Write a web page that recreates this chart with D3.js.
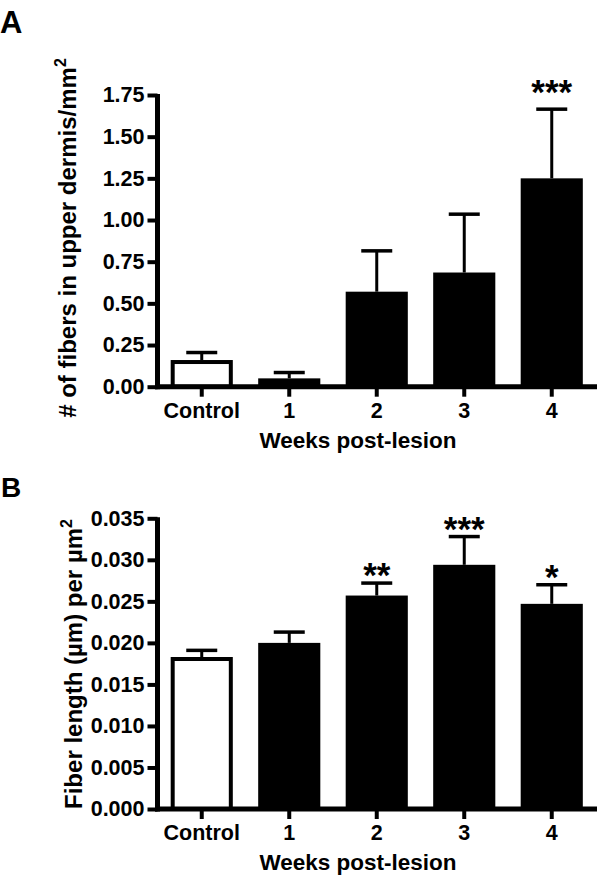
<!DOCTYPE html>
<html><head><meta charset="utf-8">
<script src="https://cdn.jsdelivr.net/npm/d3@7"></script>
<style>body{margin:0;background:#fff;} text{font-family:"Liberation Sans",Arial,sans-serif;font-weight:bold;fill:#000;}</style>
</head><body><svg id="c" width="600" height="883"></svg>
<script>
const categories = ["Control","1","2","3","4"];
const fibersMean = [0.16, 0.05, 0.57, 0.685, 1.25];
const fibersErr  = [0.045, 0.035, 0.245, 0.35, 0.415];
const fibersStars = ["", "", "", "", "***"];
const fibersTicks = [0, 0.25, 0.5, 0.75, 1.0, 1.25, 1.5, 1.75];
const lengthMean = [0.0183, 0.0200, 0.0257, 0.0294, 0.0247];
const lengthErr  = [0.0008, 0.0013, 0.0015, 0.0034, 0.0023];
const lengthStars = ["", "", "**", "***", "*"];
const lengthTicks = [0, 0.005, 0.01, 0.015, 0.02, 0.025, 0.03, 0.035];

const svg = d3.select("#c");

function panel(cfg){
  const g = svg.append("g");
  const x = d3.scaleBand().domain(categories).range([158, 595.5]).paddingInner(0.29).paddingOuter(0.145);
  const y = d3.scaleLinear().domain([0, cfg.max]).range([cfg.y0, cfg.y1]);
  // bars
  g.selectAll("rect.bar").data(cfg.mean).enter().append("rect")
    .attr("x", (d,i)=>x(categories[i])+2)
    .attr("width", x.bandwidth()-4)
    .attr("y", d=>y(d)+2)
    .attr("height", d=>y(0)-y(d)-2)
    .attr("fill", (d,i)=> i===0 ? "#fff" : "#000")
    .attr("stroke", "#000").attr("stroke-width", 4);
  // error bars
  const cx = i => x(categories[i]) + x.bandwidth()/2;
  g.selectAll("line.eb").data(cfg.mean).enter().append("line")
    .attr("x1",(d,i)=>cx(i)).attr("x2",(d,i)=>cx(i))
    .attr("y1",(d)=>y(d)).attr("y2",(d,i)=>y(d+cfg.err[i]))
    .attr("stroke","#000").attr("stroke-width",3);
  g.selectAll("line.cap").data(cfg.mean).enter().append("line")
    .attr("x1",(d,i)=>cx(i)-15.5).attr("x2",(d,i)=>cx(i)+15.5)
    .attr("y1",(d,i)=>y(d+cfg.err[i])).attr("y2",(d,i)=>y(d+cfg.err[i]))
    .attr("stroke","#000").attr("stroke-width",3.5);
  // stars
  g.selectAll("text.star").data(cfg.stars).enter().append("text")
    .attr("x",(d,i)=>cx(i)).attr("y",(d,i)=>y(cfg.mean[i]+cfg.err[i]) + cfg.starOff)
    .attr("text-anchor","middle").style("font-size","35px").text(d=>d);
  // y axis
  const ya = g.append("g").attr("transform","translate(157.5,0)")
    .call(d3.axisLeft(y).tickValues(cfg.ticks).tickFormat(cfg.fmt).tickSize(10).tickSizeOuter(0).tickPadding(3));
  ya.select(".domain").remove();
  ya.selectAll(".tick line").attr("stroke","#000").attr("stroke-width",4);
  ya.selectAll(".tick text").style("font-size","21.5px").attr("font-family",null);
  g.append("line").attr("x1",157.5).attr("x2",157.5).attr("y1",y(cfg.max)-1).attr("y2",y(0)+2.5)
    .attr("stroke","#000").attr("stroke-width",5);
  // x axis
  const xa = g.append("g").attr("transform",`translate(0,${y(0)})`)
    .call(d3.axisBottom(x).tickSize(10).tickSizeOuter(0).tickPadding(6));
  xa.select(".domain").remove();
  xa.selectAll(".tick line").attr("stroke","#000").attr("stroke-width",4);
  xa.selectAll(".tick text").style("font-size","21.5px").attr("font-family",null);
  g.append("line").attr("x1",155).attr("x2",597).attr("y1",y(0)).attr("y2",y(0))
    .attr("stroke","#000").attr("stroke-width",5);
  // titles
  g.append("text").attr("x",358).attr("y",y(0)+61).attr("text-anchor","middle")
    .style("font-size","22.5px").text("Weeks post-lesion");
  const yt = g.append("text").attr("transform",`translate(${cfg.ytx},${cfg.yty}) rotate(-90)`)
    .attr("text-anchor","middle").style("font-size","24px");
  yt.append("tspan").text(cfg.ylabel);
  yt.append("tspan").attr("dy",-10).style("font-size","16px").text("2");
  g.append("text").attr("x",cfg.lx).attr("y",cfg.ly).style("font-size",cfg.lsize).text(cfg.letter);
}

panel({mean:fibersMean, err:fibersErr, stars:fibersStars, ticks:fibersTicks, max:1.75,
  y0:386.7, y1:95, fmt:d3.format(".2f"), starOff:-5, ytx:76, yty:238,
  ylabel:"# of fibers in upper dermis/mm", letter:"A", lx:0, ly:33, lsize:31});
panel({mean:lengthMean, err:lengthErr, stars:lengthStars, ticks:lengthTicks, max:0.035,
  y0:809, y1:518.3, fmt:d3.format(".3f"), starOff:4, ytx:82, yty:664,
  ylabel:"Fiber length (µm) per µm", letter:"B", lx:1, ly:497, lsize:28});
</script></body></html>
